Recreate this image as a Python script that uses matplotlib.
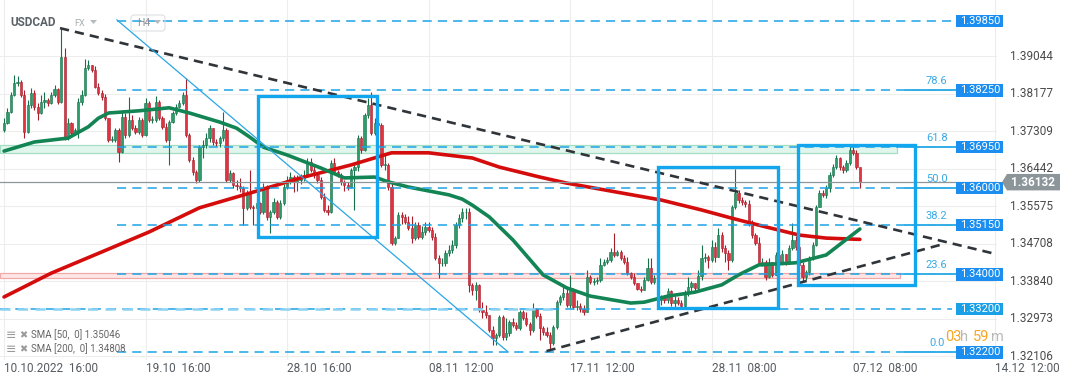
import numpy as np
import matplotlib
matplotlib.use("Agg")
import matplotlib.pyplot as plt
import matplotlib.transforms as mtransforms
from matplotlib.patches import Rectangle, Polygon, FancyBboxPatch

plt.rcParams['font.family'] = ['Roboto', 'DejaVu Sans']

# USDCAD H4 candles (open of each bar = previous close)
first_open = 1.3734
close = [
    1.3750, 1.3775, 1.3815, 1.3842, 1.3845, 1.3815, 1.3729, 1.3791, 1.3819, 1.3787,
    1.3773, 1.3798, 1.3803, 1.3796, 1.3815, 1.3828, 1.3798, 1.3902, 1.3715, 1.3750,
    1.3727, 1.3734, 1.3798, 1.3815, 1.3877, 1.3884, 1.3872, 1.3833, 1.3819, 1.3810,
    1.3761, 1.3711, 1.3711, 1.3734, 1.3683, 1.3764, 1.3722, 1.3757, 1.3738, 1.3729,
    1.3757, 1.3722, 1.3796, 1.3757, 1.3757, 1.3798, 1.3761, 1.3741, 1.3711, 1.3752,
    1.3773, 1.3787, 1.3796, 1.3815, 1.3722, 1.3664, 1.3637, 1.3618, 1.3694, 1.3699,
    1.3715, 1.3738, 1.3706, 1.3704, 1.3715, 1.3734, 1.3618, 1.3634, 1.3607, 1.3604,
    1.3600, 1.3554, 1.3588, 1.3556, 1.3554, 1.3565, 1.3544, 1.3602, 1.3533, 1.3544,
    1.3567, 1.3533, 1.3565, 1.3602, 1.3618, 1.3625, 1.3614, 1.3618, 1.3623, 1.3630,
    1.3660, 1.3641, 1.3630, 1.3618, 1.3579, 1.3549, 1.3544, 1.3657, 1.3637, 1.3630,
    1.3614, 1.3607, 1.3602, 1.3641, 1.3648, 1.3715, 1.3688, 1.3768, 1.3791, 1.3727,
    1.3750, 1.3745, 1.3653, 1.3653, 1.3602, 1.3473, 1.3484, 1.3537, 1.3533, 1.3521,
    1.3507, 1.3484, 1.3514, 1.3487, 1.3498, 1.3510, 1.3503, 1.3487, 1.3438, 1.3426,
    1.3426, 1.3450, 1.3457, 1.3468, 1.3514, 1.3530, 1.3544, 1.3544, 1.3376, 1.3364,
    1.3376, 1.3318, 1.3313, 1.3306, 1.3271, 1.3253, 1.3260, 1.3302, 1.3255, 1.3265,
    1.3290, 1.3283, 1.3276, 1.3313,
    1.3299, 1.3286, 1.3271, 1.3320, 1.3304, 1.3276, 1.3267, 1.3260, 1.3242, 1.3279,
    1.3336, 1.3348, 1.3357, 1.3330, 1.3364, 1.3325, 1.3327, 1.3320, 1.3313, 1.3394,
    1.3383, 1.3385, 1.3387, 1.3422, 1.3429, 1.3433, 1.3452, 1.3445, 1.3452, 1.3438,
    1.3429, 1.3403, 1.3394, 1.3380, 1.3366, 1.3364, 1.3387, 1.3415, 1.3383, 1.3392,
    1.3341, 1.3348, 1.3341, 1.3362, 1.3334, 1.3341, 1.3334, 1.3327, 1.3357, 1.3371,
    1.3380, 1.3369, 1.3396, 1.3438, 1.3440, 1.3433, 1.3463, 1.3440, 1.3491, 1.3461,
    1.3450, 1.3433, 1.3556, 1.3588, 1.3572, 1.3567, 1.3563, 1.3519, 1.3491, 1.3473,
    1.3426, 1.3429, 1.3394, 1.3429, 1.3399, 1.3445, 1.3429, 1.3447, 1.3429, 1.3461,
    1.3480, 1.3463, 1.3422, 1.3394, 1.3406, 1.3438, 1.3468, 1.3556, 1.3588, 1.3584,
    1.3600, 1.3630, 1.3648, 1.3669, 1.3648, 1.3641, 1.3657, 1.3688, 1.3681, 1.3648,
    1.3613,
]
high = [
    1.3761, 1.3785, 1.3821, 1.3861, 1.3858, 1.3849, 1.3826, 1.3803, 1.3831, 1.3826,
    1.3796, 1.3815, 1.3821, 1.3808, 1.3821, 1.3838, 1.3831, 1.3969, 1.3923, 1.3761,
    1.3752, 1.3738, 1.3808, 1.3826, 1.3898, 1.3895, 1.3884, 1.3882, 1.3842, 1.3826,
    1.3817, 1.3761, 1.3720, 1.3738, 1.3738, 1.3780, 1.3773, 1.3810, 1.3768, 1.3745,
    1.3764, 1.3761, 1.3808, 1.3801, 1.3766, 1.3812, 1.3803, 1.3766, 1.3750, 1.3757,
    1.3778, 1.3794, 1.3803, 1.3821, 1.3854, 1.3727, 1.3671, 1.3641, 1.3699, 1.3711,
    1.3727, 1.3745, 1.3738, 1.3713, 1.3720, 1.3775, 1.3738, 1.3641, 1.3637, 1.3618,
    1.3623, 1.3604, 1.3595, 1.3641, 1.3560, 1.3572, 1.3567, 1.3611, 1.3607, 1.3549,
    1.3577, 1.3572, 1.3572, 1.3609, 1.3627, 1.3637, 1.3630, 1.3630, 1.3632, 1.3641,
    1.3669, 1.3669, 1.3653, 1.3637, 1.3625, 1.3588, 1.3560, 1.3664, 1.3669, 1.3641,
    1.3634, 1.3618, 1.3614, 1.3646, 1.3655, 1.3722, 1.3720, 1.3773, 1.3808, 1.3821,
    1.3761, 1.3757, 1.3750, 1.3676, 1.3657, 1.3614, 1.3489, 1.3544, 1.3544, 1.3540,
    1.3535, 1.3535, 1.3521, 1.3521, 1.3512, 1.3521, 1.3521, 1.3510, 1.3496, 1.3445,
    1.3438, 1.3457, 1.3468, 1.3480, 1.3521, 1.3540, 1.3554, 1.3554, 1.3554, 1.3380,
    1.3383, 1.3378, 1.3336, 1.3330, 1.3299, 1.3281, 1.3265, 1.3306, 1.3306, 1.3299,
    1.3295, 1.3299, 1.3290, 1.3318,
    1.3318, 1.3313, 1.3290, 1.3334, 1.3323, 1.3311, 1.3281, 1.3279, 1.3267, 1.3283,
    1.3341, 1.3353, 1.3376, 1.3369, 1.3399, 1.3369, 1.3341, 1.3334, 1.3330, 1.3410,
    1.3399, 1.3392, 1.3394, 1.3438, 1.3436, 1.3440, 1.3461, 1.3496, 1.3457, 1.3457,
    1.3445, 1.3440, 1.3406, 1.3403, 1.3380, 1.3373, 1.3394, 1.3438, 1.3438, 1.3399,
    1.3387, 1.3353, 1.3353, 1.3369, 1.3364, 1.3350, 1.3348, 1.3341, 1.3364, 1.3394,
    1.3385, 1.3380, 1.3410, 1.3468, 1.3450, 1.3445, 1.3480, 1.3475, 1.3507, 1.3498,
    1.3468, 1.3457, 1.3560, 1.3644, 1.3595, 1.3579, 1.3572, 1.3572, 1.3526, 1.3496,
    1.3487, 1.3438, 1.3433, 1.3438, 1.3429, 1.3452, 1.3445, 1.3457, 1.3445, 1.3468,
    1.3519, 1.3489, 1.3468, 1.3429, 1.3410, 1.3443, 1.3475, 1.3560, 1.3595, 1.3595,
    1.3607, 1.3637, 1.3655, 1.3676, 1.3671, 1.3653, 1.3664, 1.3699, 1.3701, 1.3688,
    1.3648,
]
low = [
    1.3729, 1.3748, 1.3773, 1.3812, 1.3835, 1.3810, 1.3715, 1.3727, 1.3785, 1.3780,
    1.3757, 1.3771, 1.3785, 1.3789, 1.3794, 1.3810, 1.3794, 1.3796, 1.3711, 1.3711,
    1.3722, 1.3722, 1.3715, 1.3791, 1.3812, 1.3872, 1.3868, 1.3831, 1.3815, 1.3803,
    1.3757, 1.3706, 1.3706, 1.3706, 1.3660, 1.3681, 1.3715, 1.3717, 1.3734, 1.3724,
    1.3724, 1.3717, 1.3720, 1.3752, 1.3750, 1.3752, 1.3757, 1.3736, 1.3706, 1.3653,
    1.3750, 1.3768, 1.3785, 1.3791, 1.3717, 1.3660, 1.3630, 1.3611, 1.3614, 1.3669,
    1.3692, 1.3706, 1.3699, 1.3697, 1.3694, 1.3708, 1.3614, 1.3614, 1.3600, 1.3595,
    1.3591, 1.3514, 1.3549, 1.3551, 1.3514, 1.3549, 1.3540, 1.3540, 1.3526, 1.3496,
    1.3540, 1.3528, 1.3528, 1.3560, 1.3597, 1.3609, 1.3591, 1.3593, 1.3609, 1.3616,
    1.3627, 1.3637, 1.3623, 1.3611, 1.3574, 1.3544, 1.3537, 1.3542, 1.3632, 1.3625,
    1.3607, 1.3593, 1.3595, 1.3600, 1.3549, 1.3639, 1.3681, 1.3685, 1.3761, 1.3722,
    1.3722, 1.3738, 1.3648, 1.3641, 1.3595, 1.3468, 1.3468, 1.3521, 1.3517, 1.3517,
    1.3503, 1.3473, 1.3480, 1.3482, 1.3482, 1.3491, 1.3498, 1.3480, 1.3433, 1.3392,
    1.3419, 1.3419, 1.3443, 1.3450, 1.3461, 1.3507, 1.3521, 1.3528, 1.3359, 1.3353,
    1.3341, 1.3313, 1.3299, 1.3299, 1.3267, 1.3237, 1.3237, 1.3255, 1.3248, 1.3248,
    1.3258, 1.3279, 1.3271, 1.3271,
    1.3295, 1.3281, 1.3260, 1.3267, 1.3299, 1.3248, 1.3260, 1.3255, 1.3225, 1.3237,
    1.3274, 1.3330, 1.3341, 1.3325, 1.3323, 1.3320, 1.3318, 1.3313, 1.3306, 1.3323,
    1.3378, 1.3376, 1.3378, 1.3383, 1.3419, 1.3424, 1.3429, 1.3440, 1.3443, 1.3433,
    1.3424, 1.3399, 1.3390, 1.3376, 1.3364, 1.3359, 1.3364, 1.3385, 1.3378, 1.3378,
    1.3336, 1.3330, 1.3334, 1.3334, 1.3327, 1.3325, 1.3330, 1.3320, 1.3325, 1.3350,
    1.3362, 1.3359, 1.3364, 1.3387, 1.3429, 1.3415, 1.3429, 1.3429, 1.3457, 1.3452,
    1.3429, 1.3410, 1.3429, 1.3551, 1.3565, 1.3560, 1.3556, 1.3512, 1.3484, 1.3468,
    1.3422, 1.3419, 1.3387, 1.3392, 1.3394, 1.3422, 1.3424, 1.3424, 1.3422, 1.3424,
    1.3457, 1.3457, 1.3415, 1.3383, 1.3387, 1.3399, 1.3433, 1.3466, 1.3577, 1.3579,
    1.3577, 1.3591, 1.3625, 1.3644, 1.3641, 1.3634, 1.3637, 1.3653, 1.3676, 1.3644,
    1.3600,
]

# moving averages (bar index, value)
sma50_bar = [0, 9, 19, 25, 28, 31, 40, 49, 55, 64, 69, 73, 77, 84, 94, 101, 110, 114, 120,
             132, 136, 139, 144, 151, 160, 167, 174, 186, 190, 197, 205, 213, 218, 224, 235,
             244, 249, 254]
sma50_val = [1.3685, 1.3706, 1.3715, 1.3741, 1.3761, 1.3773, 1.3778, 1.3785, 1.3773, 1.3752,
             1.3738, 1.3717, 1.3694, 1.3676, 1.3646, 1.3623, 1.3625, 1.3614, 1.3602, 1.3584,
             1.3574, 1.3560, 1.3533, 1.3480, 1.3399, 1.3369, 1.3350, 1.3334, 1.3336, 1.3350,
             1.3359, 1.3376, 1.3399, 1.3422, 1.3427, 1.3445, 1.3475, 1.3505]
sma200_bar = [0, 14, 29, 43, 58, 73, 88, 103, 115, 126, 139, 147, 159, 167, 182, 195, 207,
              216, 226, 236, 244, 254]
sma200_val = [1.3348, 1.3403, 1.3452, 1.3498, 1.3554, 1.3588, 1.3623, 1.3653, 1.3681, 1.3681,
              1.3669, 1.3648, 1.3625, 1.3611, 1.3590, 1.3572, 1.3549, 1.3530, 1.3510, 1.3491,
              1.3484, 1.3481]

levels = [1.39850, 1.38250, 1.36950, 1.36000, 1.35150, 1.34000, 1.33200, 1.32200]
level_start = [33.5, 33.5, 33.5, 33.5, 33.5, 33.5, -1.2, 33.5]
fib_labels = ["78.6", "61.8", "50.0", "38.2", "23.6", "0.0"]
fib_prices = [1.38250, 1.36950, 1.36000, 1.35150, 1.34000, 1.32200]
axis_prices = [1.39044, 1.38177, 1.37309, 1.36442, 1.35575, 1.34708, 1.33840, 1.32973, 1.32106]
date_labels = ["10.10.2022  16:00", "19.10  16:00", "28.10  16:00", "08.11  12:00",
               "17.11  12:00", "28.11  08:00", "07.12  08:00", "14.12  12:00"]
date_bars = [0, 42, 84, 126, 168, 210, 252, 294]
last_price = 1.36132
sma_legend = ["SMA [50,  0] 1.35046", "SMA [200,  0] 1.34808"]

close = np.array(close)
high = np.array(high)
low = np.array(low)
opens = np.concatenate([[first_open], close[:-1]])
n = len(close)
x = np.arange(n)

W, H = 1072, 382
fig = plt.figure(figsize=(W / 100, H / 100), dpi=100)
ax = fig.add_axes([0, 22 / H, 997 / W, 360 / H])
ax.set_xlim(-1.2, 294.7)
ax.set_ylim(1.32024, 1.4034)
ax.axis("off")
# reference pixel coords (from top-left of image)
px = mtransforms.Affine2D().scale(1 / W, -1 / H).translate(0, 1) + fig.transFigure
yax = ax.get_yaxis_transform()

# grid
for p in axis_prices:
    ax.axhline(p, color="#ededed", lw=0.8, zorder=0)
for b in date_bars:
    ax.axvline(b, color="#ededed", lw=0.8, zorder=0)

# zones
ax.add_patch(Rectangle((-1.2, 1.3681), 266.2, 0.0018, fc="#e0f6ec", ec="#a3dec4", lw=0.9, zorder=1))
ax.add_patch(Rectangle((-1.2, 1.3392), 267.0, 0.0011, fc="#fde6e6", ec="#f2a8a8", lw=0.9, zorder=1))

# candles
up = close >= opens
hi = np.maximum(high, np.maximum(opens, close))
lo = np.minimum(low, np.minimum(opens, close))
edge = np.where(up, "#18704a", "#a51f2b")
face = np.where(up, "#2c9c6b", "#e1323f")
ax.vlines(x, lo, hi, colors=edge, lw=0.8, zorder=2)
body = np.maximum(np.abs(close - opens), 0.00012)
ax.bar(x, body, bottom=np.minimum(opens, close), width=0.66, color=face,
       edgecolor=edge, linewidth=0.4, zorder=3)

# SMAs
ax.plot(sma200_bar, sma200_val, color="#d50c0c", lw=2.6, zorder=4, solid_capstyle="round")
ax.plot(sma50_bar, sma50_val, color="#138453", lw=2.6, zorder=4, solid_capstyle="round")

# last price line
ax.axhline(last_price, color="#8c969b", lw=0.9, zorder=4)

# horizontal levels
for p, s in zip(levels, level_start):
    ax.plot([s, 281.3], [p, p], color="#1ba3e6", lw=1.1, dashes=(6, 4), zorder=5)
ax.plot([-1.2, 163], [1.332, 1.332], color="#8dd2f4", lw=1.8, dashes=(4, 3), zorder=5)

# fib segments and labels
for lab, p in zip(fib_labels, fib_prices):
    ax.plot([267.4, 282.5], [p, p], color="#35aee8", lw=1.4, zorder=5, clip_on=False)
    ax.text(276.8, p + 0.0021, lab, color="#3aa9e4", fontsize=8, ha="center", va="center")

# trend lines
ax.plot([16.6, 295.5], [1.3969, 1.3445], color="#30353a", lw=1.9, dashes=(3.5, 2.3), zorder=6)
ax.plot([161, 277.7], [1.3223, 1.3468], color="#30353a", lw=1.9, dashes=(3.5, 2.3), zorder=6)
ax.plot([33.5, 149.6], [1.3988, 1.3221], color="#2ba6e6", lw=0.9, zorder=6)

# boxes
for x0, x1, y0, y1 in [(75.4, 110.7, 1.3487, 1.3812), (194.0, 229.7, 1.3323, 1.3648),
                       (235.6, 270.3, 1.3376, 1.3699)]:
    ax.add_patch(Rectangle((x0, y0), x1 - x0, y1 - y0, fill=False, ec="#11a6ee", lw=2.4, zorder=7))

# price tags on the right
for p in levels:
    fc = "#1aa0e6" if p == 1.332 else "#1b8ef0"
    ax.add_patch(Rectangle((956 / 997, p - 0.00142), 47 / 997, 0.00284, transform=yax,
                           fc=fc, ec="none", zorder=8, clip_on=False))
    ax.text(980 / 997, p, "%.5f" % p, transform=yax, color="white", fontsize=8,
            ha="center", va="center", zorder=9)

# right axis labels
for p in axis_prices:
    ax.text(1010 / 997, p, "%.5f" % p, transform=yax, color="#4a4a4a", fontsize=8.5,
            ha="left", va="center")

tag = Polygon([(1002 / 997, last_price), (1007 / 997, last_price + 0.0019),
               (1060 / 997, last_price + 0.0019), (1060 / 997, last_price - 0.0019),
               (1007 / 997, last_price - 0.0019)], closed=True, transform=yax,
              fc="#8b959a", ec="none", zorder=9, clip_on=False)
ax.add_patch(tag)
ax.text(1033 / 997, last_price, "%.5f" % last_price, transform=yax, color="white",
        fontsize=8.5, fontweight="bold", ha="center", va="center", zorder=10)

# dates
for lab, b in zip(date_labels, date_bars):
    fig.text(4 + b * 3.37, 368, lab, transform=px, color="#555b60",
             fontsize=8.5, ha="left", va="center")

# header
fig.text(10, 22, "USDCAD", transform=px, fontsize=8.5, fontweight="bold", color="#5b6268",
         va="center")
fig.text(74, 23, "FX", transform=px, fontsize=6.5, color="#a8aeb2", va="center")
fig.patches.append(Polygon([(90, 20), (97, 20), (93.5, 24)], closed=True, transform=px,
                           fc="#b5babe", ec="none"))
fig.patches.append(FancyBboxPatch((131, 15), 34, 16, boxstyle="round,pad=0,rounding_size=3",
                                  transform=px, fc="none", ec="#dcdfe2", lw=0.8))
fig.text(137, 23, "H4", transform=px, fontsize=7.5, color="#8a9096", va="center")
fig.patches.append(Polygon([(154, 20), (161, 20), (157.5, 24)], closed=True, transform=px,
                           fc="#b5babe", ec="none"))

# legend
for i, lab in enumerate(sma_legend):
    yy = 335 + 14 * i
    fig.text(6, yy, "\u2261", transform=px, fontsize=9, color="#9a9a9a", va="center",
             family="DejaVu Sans")
    fig.text(19, yy, "\u2716", transform=px, fontsize=7, color="#9a9a9a", va="center",
             family="DejaVu Sans")
    fig.text(31, yy, lab, transform=px, fontsize=7, color="#666666", va="center")

# countdown
fig.text(945, 337, "03", transform=px, fontsize=10.5, color="#f5a623", va="center")
fig.text(960, 337, "h", transform=px, fontsize=10.5, color="#b9b9b9", va="center")
fig.text(973, 337, "59", transform=px, fontsize=10.5, color="#f5a623", va="center")
fig.text(991, 337, "m", transform=px, fontsize=10.5, color="#b9b9b9", va="center")

fig.savefig("out.png", dpi=100, facecolor="white")
